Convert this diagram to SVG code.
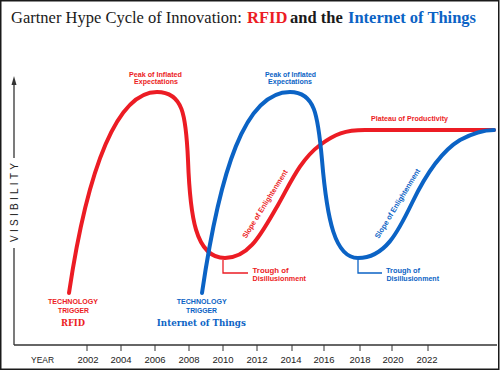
<svg xmlns="http://www.w3.org/2000/svg" width="500" height="371" viewBox="0 0 500 371">
<defs>
<style>
.red{fill:#ec1c24}
.blue{fill:#0b63c5}
.blk{fill:#1a1a1a}
.title{font-family:"Liberation Serif","Times New Roman",serif;font-size:16.5px}
.slab{font-family:"DejaVu Serif","Liberation Serif",serif;font-weight:bold;font-size:10px}
.lbl{font-family:"Liberation Sans Narrow","Liberation Sans",Arial,sans-serif;font-weight:bold;font-size:7.5px}
.cap{font-family:"Liberation Sans Narrow","Liberation Sans",Arial,sans-serif;font-weight:bold;font-size:8px}
.yr{font-family:"Liberation Sans",Arial,sans-serif;font-size:9.5px;fill:#222;text-anchor:middle}
.axis{stroke:#333;stroke-width:1.3;fill:none}
.tick{stroke:#333;stroke-width:1;fill:none}
.curve{fill:none;stroke-width:4;stroke-linecap:round;stroke-linejoin:round}
.call{fill:none;stroke-width:1.3}
</style>
</defs>
<rect x="0" y="0" width="500" height="371" fill="#ffffff"/>
<rect x="0.75" y="0.75" width="498" height="368.5" fill="none" stroke="#1a1a1a" stroke-width="1.5"/>

<g id="title">
<text class="title" y="23"><tspan class="blk" x="11">Gartner Hype Cycle of Innovation:</tspan><tspan class="red" x="247" font-weight="bold">RFID</tspan><tspan class="blk" x="290" font-weight="bold">and the</tspan><tspan class="blue" x="348" font-weight="bold">Internet of Things</tspan></text>
</g>

<g id="axes">
<line class="axis" x1="14" y1="82" x2="14" y2="158"/>
<line class="axis" x1="14" y1="248" x2="14" y2="345"/>
<polygon points="14,76 11.5,85 16.5,85" fill="#333"/>
<line class="axis" x1="14" y1="345" x2="497" y2="345"/>
<text x="0" y="0" transform="translate(18.3,202.5) rotate(-90)" font-family="Liberation Sans, Arial, sans-serif" font-size="10px" fill="#222" text-anchor="middle" textLength="79" lengthAdjust="spacing">VISIBILITY</text>
<text class="yr" x="42.5" y="363" textLength="23" lengthAdjust="spacingAndGlyphs">YEAR</text>
<g id="ticks">
<line class="tick" x1="87" y1="345" x2="87" y2="351"/>
<line class="tick" x1="121" y1="345" x2="121" y2="351"/>
<line class="tick" x1="155" y1="345" x2="155" y2="351"/>
<line class="tick" x1="189" y1="345" x2="189" y2="351"/>
<line class="tick" x1="223" y1="345" x2="223" y2="351"/>
<line class="tick" x1="257" y1="345" x2="257" y2="351"/>
<line class="tick" x1="292" y1="345" x2="292" y2="351"/>
<line class="tick" x1="324" y1="345" x2="324" y2="351"/>
<line class="tick" x1="360" y1="345" x2="360" y2="351"/>
<line class="tick" x1="392" y1="345" x2="392" y2="351"/>
<line class="tick" x1="428" y1="345" x2="428" y2="351"/>
</g>
<text class="yr" x="88" y="363">2002</text>
<text class="yr" x="121" y="363">2004</text>
<text class="yr" x="155" y="363">2006</text>
<text class="yr" x="189" y="363">2008</text>
<text class="yr" x="223" y="363">2010</text>
<text class="yr" x="257" y="363">2012</text>
<text class="yr" x="291" y="363">2014</text>
<text class="yr" x="324" y="363">2016</text>
<text class="yr" x="360" y="363">2018</text>
<text class="yr" x="393" y="363">2020</text>
<text class="yr" x="427" y="363">2022</text>
</g>

<g id="connectors">
<path id="rfid-curve" class="curve" stroke="#ec1c24" d="M69,293 C88,165 118,92 157,92 C183,92 186,115 188,160 C190,215 195,258 225,258 C250,258 262,232 278,205 C290,184 300,160 320,145 C335,134 345,130 365,130 L494,130"/>
<path id="iot-curve" class="curve" stroke="#0b63c5" d="M202,293 C220,170 245,92 290,92 C315,92 318,115 322,160 C327,220 335,258 358,258 C385,258 398,232 412,203 C424,178 440,152 460,140 C475,132 485,130 494,130"/>
<path class="call" stroke="#ec1c24" d="M223,260 V273 H248"/>
<path class="call" stroke="#0b63c5" d="M358,260 V273 H382"/>
</g>

<g id="rfid-labels">
<text class="lbl red" x="155.5" y="76.5" text-anchor="middle" textLength="53" lengthAdjust="spacingAndGlyphs">Peak of Inflated</text>
<text class="lbl red" x="156" y="84" text-anchor="middle" textLength="44" lengthAdjust="spacingAndGlyphs">Expectations</text>
<text class="cap red" x="73" y="304" text-anchor="middle" textLength="50" lengthAdjust="spacingAndGlyphs">TECHNOLOGY</text>
<text class="cap red" x="73.5" y="313.3" text-anchor="middle" textLength="31" lengthAdjust="spacingAndGlyphs">TRIGGER</text>
<text class="slab red" x="73" y="326" text-anchor="middle" textLength="24" lengthAdjust="spacingAndGlyphs">RFID</text>
<text class="lbl red" x="252.5" y="273" textLength="36" lengthAdjust="spacingAndGlyphs">Trough of</text>
<text class="lbl red" x="252.5" y="281" textLength="53.5" lengthAdjust="spacingAndGlyphs">Disillusionment</text>
<text class="lbl red" x="371" y="121" textLength="77" lengthAdjust="spacingAndGlyphs">Plateau of Productivity</text>
<text class="lbl red" x="0" y="2.5" transform="translate(265,204) rotate(-58)" text-anchor="middle" textLength="79" lengthAdjust="spacingAndGlyphs">Slope of Enlightenment</text>
</g>

<g id="iot-labels">
<text class="lbl blue" x="290.5" y="76.5" text-anchor="middle" textLength="51" lengthAdjust="spacingAndGlyphs">Peak of Inflated</text>
<text class="lbl blue" x="290" y="84" text-anchor="middle" textLength="44" lengthAdjust="spacingAndGlyphs">Expectations</text>
<text class="cap blue" x="201.7" y="304" text-anchor="middle" textLength="50" lengthAdjust="spacingAndGlyphs">TECHNOLOGY</text>
<text class="cap blue" x="201.5" y="313.3" text-anchor="middle" textLength="31" lengthAdjust="spacingAndGlyphs">TRIGGER</text>
<text class="slab blue" x="201.3" y="326" text-anchor="middle" textLength="89" lengthAdjust="spacingAndGlyphs">Internet of Things</text>
<text class="lbl blue" x="386" y="273" textLength="34" lengthAdjust="spacingAndGlyphs">Trough of</text>
<text class="lbl blue" x="386.5" y="281" textLength="52.5" lengthAdjust="spacingAndGlyphs">Disillusionment</text>
<text class="lbl blue" x="0" y="2.5" transform="translate(397.5,203.5) rotate(-58.7)" text-anchor="middle" textLength="80" lengthAdjust="spacingAndGlyphs">Slope of Enlightenment</text>
</g>
</svg>
